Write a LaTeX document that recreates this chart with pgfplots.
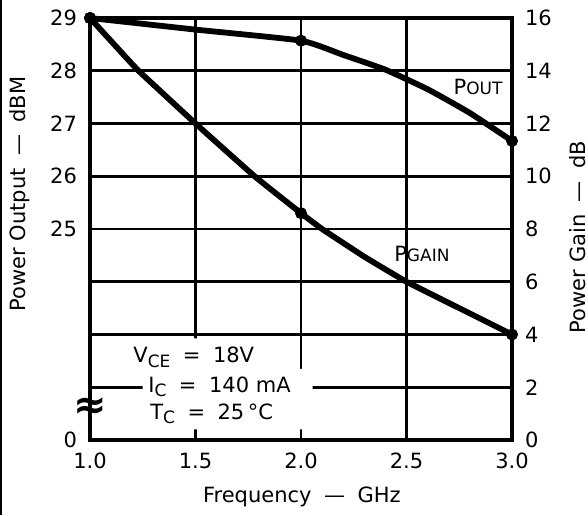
\documentclass[border=0pt]{standalone}
\usepackage{pgfplots}
\pgfplotsset{compat=1.18}
\usepackage{fontspec}
\setmainfont{DejaVu Sans}
% small caps style subscripts of the datasheet
\newcommand{\sub}[1]{\raisebox{-0.35ex}{\fontsize{8.5}{9}\selectfont #1}}
\newcommand{\capsub}[1]{{\fontsize{8.5}{10}\selectfont #1}}
\newcommand{\brk}{{\bfseries\fontsize{20}{20}\selectfont ≈}}

\begin{document}
\begin{tikzpicture}[font=\fontsize{10.5}{12}\selectfont]
\useasboundingbox (-45pt,-37.5pt) rectangle (249pt,220pt);
\pgfplotsset{
  every axis/.append style={
    at={(0,0)}, anchor=south west, scale only axis,
    width=211pt, height=211pt,
    xmin=1, xmax=3,
    major tick length=0pt,
    /pgf/number format/assume math mode=true,
    tick label style={font=\fontsize{10.5}{12}\selectfont},
  },
}
% left axis: power output in dBm (broken below 25)
\begin{axis}[
    ymin=21, ymax=29,
    xtick={1,1.5,2,2.5,3},
    xticklabels={1.0,1.5,2.0,2.5,3.0},
    ytick={21,22,23,24,25,26,27,28,29},
    yticklabels={0,,,,25,26,27,28,29},
    yticklabel style={xshift=-3pt},
    xticklabel style={yshift=-3pt},
    grid=major,
    grid style={line width=1.4pt, black},
    axis line style={line width=1.8pt},
    clip=false,
  ]
  \addplot[black, line width=2.9pt, smooth, tension=0.3] coordinates {
    (1.0,29.00) (1.5,28.78) (2.0,28.57) (2.2,28.30) (2.4,28.02) (2.6,27.65) (2.8,27.20) (3.0,26.67)
  };
  \addplot[black, only marks, mark=*, mark size=2.8pt] coordinates {
    (1.0,29.00) (2.0,28.57) (3.0,26.67)
  };
\end{axis}
% right axis: power gain in dB
\begin{axis}[
    axis y line*=right, axis x line=none,
    ymin=0, ymax=16,
    ytick={0,2,...,16},
    yticklabel style={xshift=3pt},
    axis line style={line width=1.8pt},
    clip=false,
  ]
  \addplot[black, line width=2.9pt, smooth, tension=0.2] coordinates {
    (1.0,16.0) (1.12,14.95) (1.23,14.0) (1.5,12.0) (1.78,10.0) (2.0,8.6) (2.1,8.0) (2.3,6.95) (2.5,6.0) (2.75,5.0) (3.0,4.0)
  };
  \addplot[black, only marks, mark=*, mark size=2.8pt] coordinates {
    (1.0,16.0) (2.0,8.6) (3.0,4.0)
  };
  % blank area behind the test conditions
  \fill[white] (axis cs:1.25,3.85) -- (axis cs:1.9,3.85) -- (axis cs:1.9,2.7)
    -- (axis cs:2.055,2.7) -- (axis cs:2.055,0.4) -- (axis cs:1.25,0.4) -- cycle;
  \node[anchor=base west, inner sep=0pt] at (axis cs:1.204,2.92) {V\sub{CE} \;=\; 18V};
  \node[anchor=base west, inner sep=0pt] at (axis cs:1.275,1.82) {I\sub{C} \;=\; 140 mA};
  \node[anchor=base west, inner sep=0pt] at (axis cs:1.284,0.76) {T\sub{C} \;=\; 25\,°C};
  \node at (axis cs:2.839,13.38) {P\capsub{OUT}};
  \node at (axis cs:2.573,7.05) {P\capsub{GAIN}};
  \node[inner sep=0pt] at (axis cs:1.0,1.2) {\brk};
  % axis titles
  \node[rotate=90] at (rel axis cs:-0.166,0.583) {Power Output \;—\; dBM};
  \node[rotate=90] at (rel axis cs:1.156,0.481) {Power Gain \;—\; dB};
  \node at (rel axis cs:0.502,-0.135) {Frequency \;—\; GHz};
\end{axis}
\draw[line width=1pt] (-44.5pt,-37.5pt) -- (-44.5pt,220pt);
\end{tikzpicture}
\end{document}
